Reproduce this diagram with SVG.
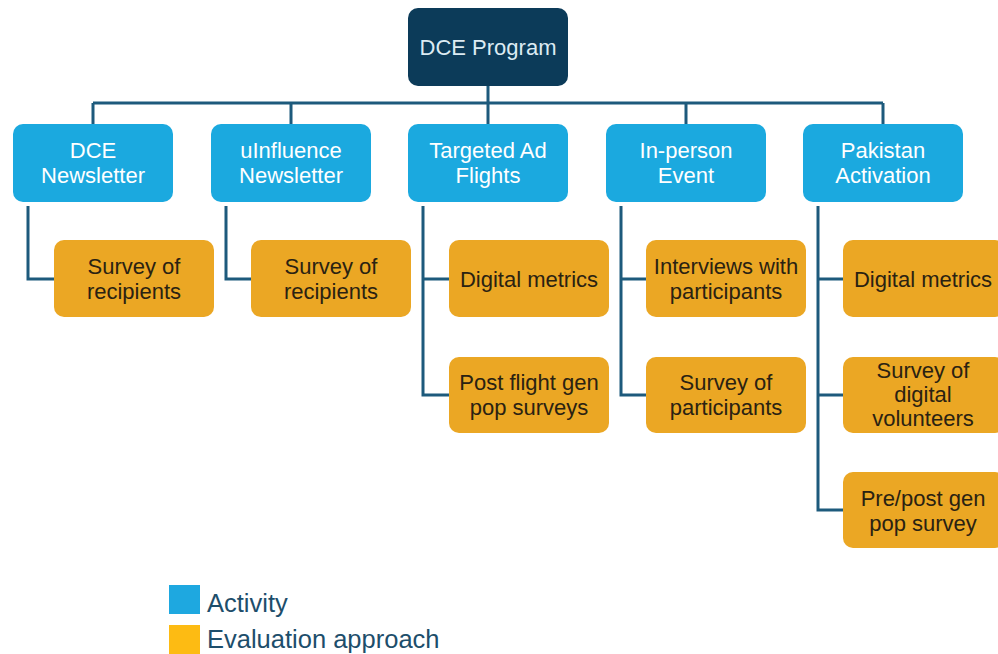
<svg xmlns="http://www.w3.org/2000/svg" width="998" height="654" viewBox="0 0 998 654">
<style>
.conn{fill:none;stroke:#1d5a7c;stroke-width:3}
.top{fill:#0c3b59}
.act{fill:#1ba9df}
.ev{fill:#eba724}
text{font-family:"Liberation Sans",Arial,sans-serif;font-size:22px;text-anchor:middle}
.tt{fill:#dcebf3;font-size:22px}
.ta{fill:#ffffff}
.te{fill:#2a2212}
.lg{fill:#1d4e6b;font-size:25.5px;text-anchor:start}
</style>
<rect width="998" height="654" fill="#ffffff"/>
<g id="connectors">
<path class="conn" d="M488 86V103M93 103H883M93 103V124M291 103V124M488 103V124M686 103V124M883 103V124"/>
<path class="conn" d="M28 206V279H54"/>
<path class="conn" d="M226 206V279H251"/>
<path class="conn" d="M423 206V395H449M423 279H449"/>
<path class="conn" d="M621 206V395H646M621 279H646"/>
<path class="conn" d="M818 206V510H843M818 279H843M818 395H843"/>
</g>
<g id="dce-program"><rect class="top" x="408" y="8" width="160" height="78" rx="10"/><text class="tt" x="488" y="55">DCE Program</text></g>
<g id="dce-newsletter"><rect class="act" x="13" y="124" width="160" height="78" rx="10"/><text class="ta" x="93" y="158">DCE</text><text class="ta" x="93" y="183">Newsletter</text></g>
<g id="uinfluence-newsletter"><rect class="act" x="211" y="124" width="160" height="78" rx="10"/><text class="ta" x="291" y="158">uInfluence</text><text class="ta" x="291" y="183">Newsletter</text></g>
<g id="targeted-ad-flights"><rect class="act" x="408" y="124" width="160" height="78" rx="10"/><text class="ta" x="488" y="158">Targeted Ad</text><text class="ta" x="488" y="183">Flights</text></g>
<g id="in-person-event"><rect class="act" x="606" y="124" width="160" height="78" rx="10"/><text class="ta" x="686" y="158">In-person</text><text class="ta" x="686" y="183">Event</text></g>
<g id="pakistan-activation"><rect class="act" x="803" y="124" width="160" height="78" rx="10"/><text class="ta" x="883" y="158">Pakistan</text><text class="ta" x="883" y="183">Activation</text></g>
<g id="dce-survey"><rect class="ev" x="54" y="240" width="160" height="77" rx="10"/><text class="te" x="134" y="274">Survey of</text><text class="te" x="134" y="299">recipients</text></g>
<g id="uinf-survey"><rect class="ev" x="251" y="240" width="160" height="77" rx="10"/><text class="te" x="331" y="274">Survey of</text><text class="te" x="331" y="299">recipients</text></g>
<g id="tad-digital"><rect class="ev" x="449" y="240" width="160" height="77" rx="10"/><text class="te" x="529" y="287">Digital metrics</text></g>
<g id="tad-post"><rect class="ev" x="449" y="357" width="160" height="76" rx="10"/><text class="te" x="529" y="390">Post flight gen</text><text class="te" x="529" y="415">pop surveys</text></g>
<g id="ipe-interviews"><rect class="ev" x="646" y="240" width="160" height="77" rx="10"/><text class="te" x="726" y="274">Interviews with</text><text class="te" x="726" y="299">participants</text></g>
<g id="ipe-survey"><rect class="ev" x="646" y="357" width="160" height="76" rx="10"/><text class="te" x="726" y="390">Survey of</text><text class="te" x="726" y="415">participants</text></g>
<g id="pak-digital"><rect class="ev" x="843" y="240" width="162" height="77" rx="10"/><text class="te" x="923" y="287">Digital metrics</text></g>
<g id="pak-survey"><rect class="ev" x="843" y="357" width="162" height="76" rx="10"/><text class="te" x="923" y="378">Survey of</text><text class="te" x="923" y="402">digital</text><text class="te" x="923" y="426">volunteers</text></g>
<g id="pak-prepost"><rect class="ev" x="843" y="472" width="162" height="76" rx="10"/><text class="te" x="923" y="506">Pre/post gen</text><text class="te" x="923" y="531">pop survey</text></g>
<g id="legend">
<rect x="169" y="585" width="31" height="29" fill="#1ea8e0"/>
<text class="lg" x="207" y="612">Activity</text>
<rect x="169" y="625" width="31" height="29" fill="#fdbb13"/>
<text class="lg" x="207" y="648">Evaluation approach</text>
</g>
</svg>
